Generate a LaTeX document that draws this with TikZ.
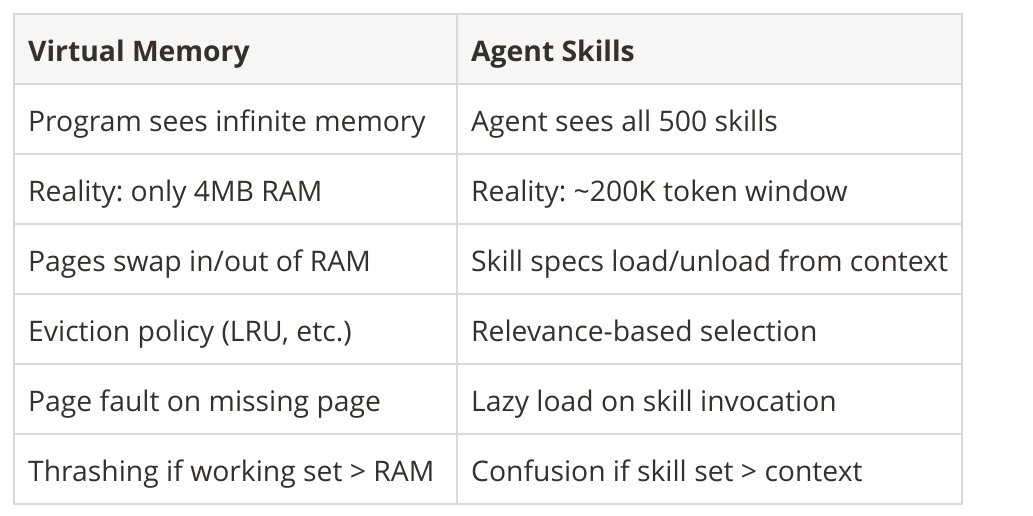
\documentclass[tikz,border=0pt]{standalone}
\usepackage{fontspec}
\setmainfont{Open Sans}
\usepackage{tikz}
\usetikzlibrary{positioning}
\definecolor{gridgray}{HTML}{D9D9D9}
\definecolor{headbg}{HTML}{F6F6F4}
\definecolor{inktext}{HTML}{35302B}
\frenchspacing

\begin{document}
\begin{tikzpicture}[x=1pt,y=-1pt,
    cell/.style={anchor=base west,inner sep=0pt,text=inktext,font=\fontsize{28.3}{34}\selectfont},
    head/.style={cell,font=\fontsize{28.3}{34}\selectfont\bfseries}]
        \useasboundingbox (0,0) rectangle (1033,515);
        \fill[headbg] (14,14) rectangle (962,84);

        \node[head](h1) at (28,61.7){Virtual Memory};
        \node[head](h2) at (471,61.7){Agent Skills};

        \node[cell](r1a) at (28,131.7){Program sees infinite memory};
        \node[cell](r1b) at (471,131.7){Agent sees all 500 skills};
        \node[cell](r2a) at (28,201.7){Reality: only 4MB RAM};
        \node[cell](r2b) at (471,201.7){Reality: \textasciitilde200K token window};
        \node[cell](r3a) at (28,271.7){Pages swap in/out of RAM};
        \node[cell](r3b) at (471,271.7){Skill specs load/unload from context};
        \node[cell](r4a) at (28,341.7){Eviction policy (LRU, etc.)};
        \node[cell](r4b) at (471,341.7){Relevance-based selection};
        \node[cell](r5a) at (28,411.7){Page fault on missing page};
        \node[cell](r5b) at (471,411.7){Lazy load on skill invocation};
        \node[cell](r6a) at (28,481.7){Thrashing if working set > RAM};
        \node[cell](r6b) at (471,481.7){Confusion if skill set > context};

        % grid
        \draw[gridgray, line width=1.2pt] (14,14) rectangle (962,504);
        \draw[gridgray, line width=1.2pt] (457,14) -- (457,504);
        \foreach \y in {84,154,224,294,364,434}
            \draw[gridgray, line width=1.2pt] (14,\y) -- (962,\y);
    \end{tikzpicture}
\end{document}
